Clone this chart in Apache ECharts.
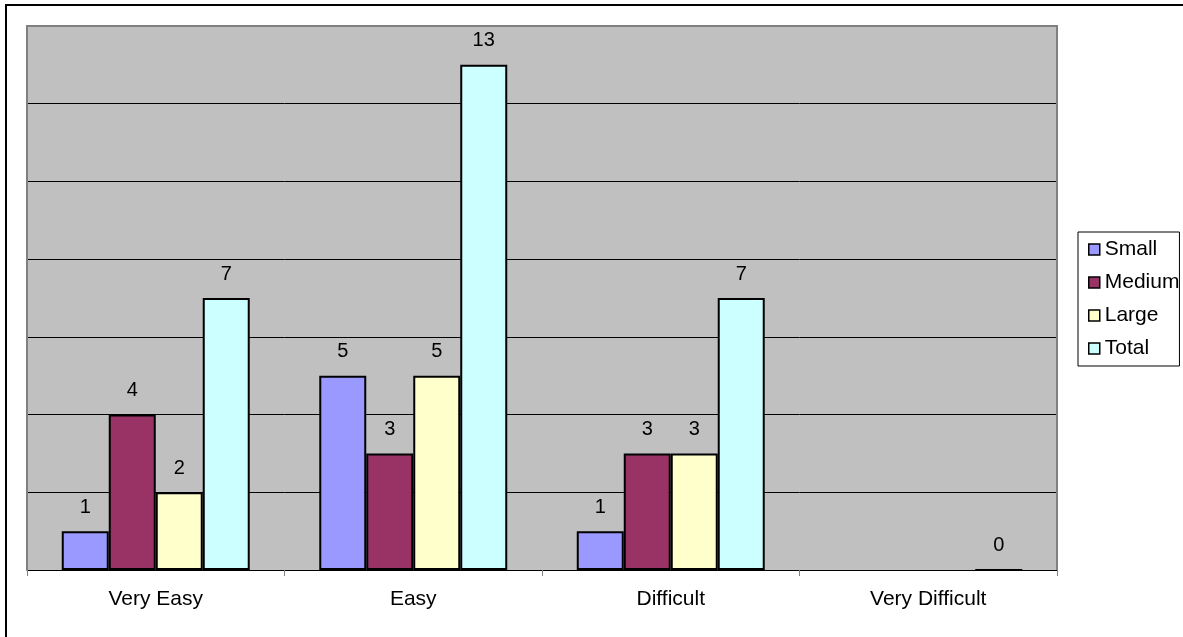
<!DOCTYPE html>
<html>
<head>
<meta charset="utf-8">
<style>
  html, body { margin: 0; padding: 0; background: #fff; }
  #chart { width: 1183px; height: 637px; }
</style>
<script src="https://cdn.jsdelivr.net/npm/echarts@6/dist/echarts.min.js"></script>
</head>
<body>
<div id="chart"></div>
<script>
// Survey responses by difficulty, split by organisation size
const categories = ['Very Easy', 'Easy', 'Difficult', 'Very Difficult'];
const smallValues = [1, 5, 1, null];
const mediumValues = [4, 3, 3, null];
const largeValues = [2, 5, 3, null];
const totalValues = [7, 13, 7, 0];

const FONT = '"Liberation Sans", Arial, sans-serif';

// plot area placement (pixels)
const PLOT = { left: 27, right: 126, top: 26, bottom: 67 };
const W = 1183, H = 637;

function barSeries(name, data, color) {
  return {
    name: name,
    type: 'bar',
    data: data,
    barGap: '0%',
    barCategoryGap: '27%',
    itemStyle: { color: color, borderColor: '#000', borderWidth: 2 },
    label: {
      show: true,
      position: 'top',
      distance: 14,
      color: '#000',
      fontFamily: FONT,
      fontSize: 20
    },
    emphasis: { disabled: true }
  };
}

const px0 = PLOT.left, px1 = W - PLOT.right, py0 = PLOT.top, py1 = H - PLOT.bottom;

const chart = echarts.init(document.getElementById('chart'), null, { renderer: 'canvas' });
chart.setOption({
  animation: false,
  backgroundColor: '#fff',
  textStyle: { fontFamily: FONT },
  graphic: [{
    type: 'rect',
    shape: { x: 6, y: 5, width: 1400, height: 900 },
    style: { fill: 'none', stroke: '#000', lineWidth: 2 },
    silent: true
  }, {
    // grey frame on the left, top and right of the plot area
    type: 'polyline',
    z: 100,
    shape: { points: [[px0, py1], [px0, py0], [px1, py0], [px1, py1]] },
    style: { fill: 'none', stroke: '#808080', lineWidth: 2 },
    silent: true
  }],
  grid: {
    left: PLOT.left, right: PLOT.right, top: PLOT.top, bottom: PLOT.bottom,
    show: true,
    backgroundColor: '#C0C0C0',
    borderColor: '#808080',
    borderWidth: 0
  },
  legend: {
    orient: 'vertical',
    left: 1078,
    top: 232,
    padding: [7, 0, 7, 10],
    borderColor: '#000',
    borderWidth: 1,
    itemWidth: 11,
    itemHeight: 11,
    itemGap: 12,
    icon: 'rect',
    selectedMode: false,
    itemStyle: { borderColor: '#000', borderWidth: 1.5 },
    textStyle: { color: '#000', fontFamily: FONT, fontSize: 21, lineHeight: 21 },
    data: ['Small', 'Medium', 'Large', 'Total']
  },
  xAxis: {
    type: 'category',
    data: categories,
    axisLine: { lineStyle: { color: '#000', width: 1 } },
    axisTick: { show: true, length: 6, lineStyle: { color: '#808080' } },
    axisLabel: { color: '#000', fontFamily: FONT, fontSize: 21, margin: 19 },
    splitLine: { show: false }
  },
  yAxis: {
    type: 'value',
    min: 0,
    max: 14,
    interval: 2,
    axisLine: { show: false },
    axisTick: { show: false },
    axisLabel: { show: false },
    splitLine: { show: true, lineStyle: { color: '#000', width: 1 } }
  },
  series: [
    barSeries('Small', smallValues, '#9999FF'),
    barSeries('Medium', mediumValues, '#993366'),
    barSeries('Large', largeValues, '#FFFFCC'),
    barSeries('Total', totalValues, '#CCFFFF')
  ]
});
</script>
</body>
</html>
